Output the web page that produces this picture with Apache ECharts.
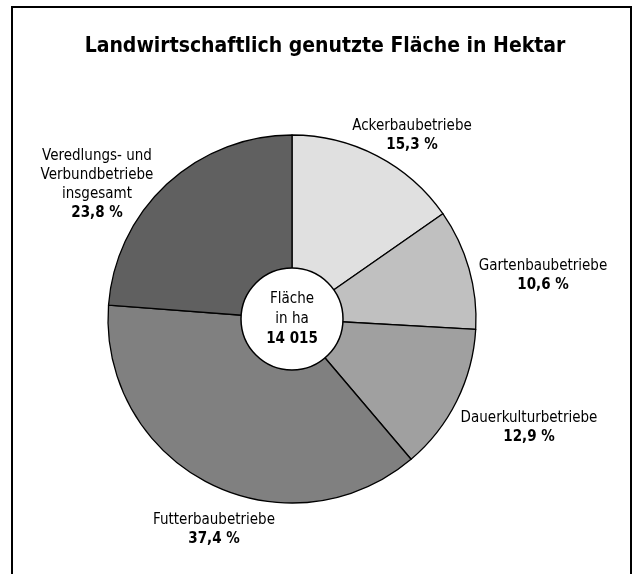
<!DOCTYPE html>
<html>
<head>
<meta charset="utf-8">
<script src="https://cdn.jsdelivr.net/npm/echarts@6/dist/echarts.min.js"></script>
<style>
  html, body { margin: 0; padding: 0; background: #fff; }
  #chart { width: 633px; height: 574px; }
</style>
</head>
<body>
<div id="chart"></div>
<script>
// Anteile an der landwirtschaftlich genutzten Fläche (in %)
const categories = [
  "Ackerbaubetriebe",
  "Gartenbaubetriebe",
  "Dauerkulturbetriebe",
  "Futterbaubetriebe",
  "Veredlungs- und\nVerbundbetriebe\ninsgesamt",
];
const shares = [15.3, 10.6, 12.9, 37.4, 23.8];
const totalHa = 14015;

const sliceColors = ["#e0e0e0", "#c0c0c0", "#a0a0a0", "#808080", "#606060"];
// label block centres, relative to the pie centre
const labelOffsets = [[120, -183], [251, -43], [237, 109], [-78, 211], [-195, -134]];

const FONT = '"DejaVu Sans Condensed", "Liberation Sans Narrow", "Arial Narrow", sans-serif';
const CX = 292, CY = 319;

const fmtPct = (v) => v.toFixed(1).replace(".", ",") + " %";
const fmtNum = (v) => String(v).replace(/\B(?=(\d{3})+(?!\d))/g, " ");

const chart = echarts.init(document.getElementById("chart"));

chart.setOption({
  backgroundColor: "#fff",
  animation: false,
  title: {
    text: "Landwirtschaftlich genutzte Fläche in Hektar",
    left: 320,
    textAlign: "center",
    top: 31,
    textStyle: { fontFamily: FONT, fontSize: 21, fontWeight: "bold", color: "#000" },
  },
  graphic: [
    {
      type: "rect",
      shape: { x: 12, y: 7, width: 619, height: 620 },
      style: { fill: "none", stroke: "#000", lineWidth: 2 },
      silent: true,
    },
  ],
  series: [
    {
      type: "pie",
      center: [CX, CY],
      radius: [0, 184],
      startAngle: 90,
      clockwise: true,
      silent: true,
      itemStyle: { borderColor: "#000", borderWidth: 1.3 },
      labelLine: { show: false },
      label: {
        show: true,
        position: "outside",
        overflow: "none",
        fontFamily: FONT,
        formatter: (p) => p.name + "\n{p|" + fmtPct(p.value) + "}",
        fontSize: 15,
        lineHeight: 19,
        color: "#000",
        align: "center",
        rich: {
          p: { fontFamily: FONT, fontSize: 15, fontWeight: "bold", lineHeight: 19, color: "#000" },
        },
      },
      labelLayout: (params) => {
        const o = labelOffsets[params.dataIndex];
        return { x: CX + o[0], y: CY + o[1], align: "center", verticalAlign: "middle" };
      },
      data: categories.map((name, i) => ({
        name: name,
        value: shares[i],
        itemStyle: { color: sliceColors[i] },
      })),
    },
    {
      type: "pie",
      center: [CX, CY],
      radius: [0, 51],
      silent: true,
      z: 5,
      itemStyle: { color: "#fff", borderColor: "#000", borderWidth: 1.5 },
      labelLine: { show: false },
      label: {
        show: true,
        position: "center",
        fontFamily: FONT,
        fontSize: 15,
        lineHeight: 20,
        color: "#000",
        formatter: (p) => "Fläche\nin ha\n{b|" + fmtNum(p.value) + "}",
        rich: {
          b: { fontFamily: FONT, fontSize: 15, fontWeight: "bold", lineHeight: 20, color: "#000" },
        },
      },
      data: [{ name: "Fläche in ha", value: totalHa }],
    },
  ],
});
</script>
</body>
</html>
